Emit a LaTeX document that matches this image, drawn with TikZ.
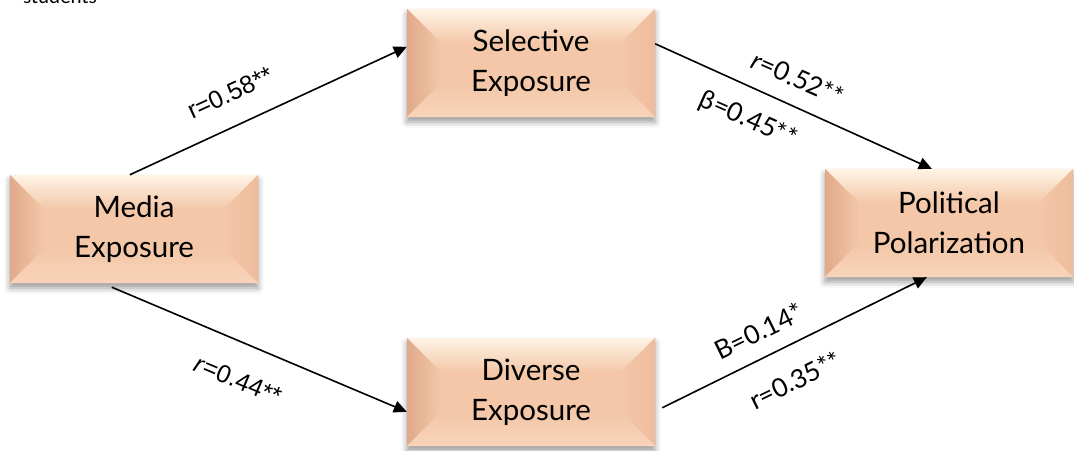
\documentclass[tikz,border=0pt]{standalone}
\usepackage{fontspec}
\setmainfont{Lato}
\newfontfamily\arialfont{Liberation Sans}
\newfontfamily\smallfont{Carlito}
\usetikzlibrary{arrows.meta,calc,shadows.blur}
\definecolor{face}{RGB}{243,199,168}
\definecolor{bevtop}{RGB}{255,244,230}
\definecolor{bevside}{RGB}{224,170,138}
\definecolor{bevright}{RGB}{238,188,156}
\definecolor{bevbot}{RGB}{248,212,186}
\tikzset{
  bevelbox/.style={rectangle, minimum width=248pt, minimum height=108pt, inner sep=0pt,
    fill=face, align=center, font=\fontsize{29.5}{40}\selectfont,
    blur shadow={shadow xshift=0pt, shadow yshift=-5pt, shadow blur radius=6pt, shadow opacity=40},
    path picture={
      \coordinate (bnw) at (path picture bounding box.north west);
      \coordinate (bne) at (path picture bounding box.north east);
      \coordinate (bsw) at (path picture bounding box.south west);
      \coordinate (bse) at (path picture bounding box.south east);
      \fill[top color=bevtop, bottom color=face] (bnw) -- (bne) -- ([shift={(-34pt,-34pt)}]bne) -- ([shift={(34pt,-34pt)}]bnw) -- cycle;
      \fill[left color=bevside, right color=face] (bnw) -- ([shift={(34pt,-34pt)}]bnw) -- ([shift={(34pt,34pt)}]bsw) -- (bsw) -- cycle;
      \fill[left color=face, right color=bevright] (bne) -- ([shift={(-34pt,-34pt)}]bne) -- ([shift={(-34pt,34pt)}]bse) -- (bse) -- cycle;
      \fill[top color=face, bottom color=bevbot] (bsw) -- ([shift={(34pt,34pt)}]bsw) -- ([shift={(-34pt,34pt)}]bse) -- (bse) -- cycle;
    }},
  conn/.style={line width=1.6pt, -{Triangle[length=13pt,width=12pt]}},
  lab/.style={inner sep=0pt, font=\fontsize{26}{30}\selectfont},
  arlab/.style={inner sep=0pt, font=\arialfont\fontsize{25}{30}\selectfont}
}
\begin{document}
\begin{tikzpicture}[x=1pt,y=-1pt]
\useasboundingbox (0,0) rectangle (1074,450);
\node[anchor=base west, inner sep=0pt, font=\smallfont\fontsize{21}{24}\selectfont] (cap) at (23,3) {students};

\node[bevelbox] (media) at (134,229) {Media\\Exposure};
\node[bevelbox] (sel) at (531,63) {Selective\\Exposure};
\node[bevelbox] (pol) at (949,223) {Political\\Polarization};
\node[bevelbox] (div) at (531,392) {Diverse\\Exposure};

\draw[conn] ($(media.north west)+(120pt,0pt)$) -- ($(sel.north west)+(0pt,-38pt)$);
\draw[conn] ($(sel.north east)+(0pt,-35pt)$) -- ($(pol.north west)+(107pt,0pt)$);
\draw[conn] ($(media.south west)+(102pt,-4pt)$) -- ($(div.north west)+(0pt,-74pt)$);
\draw[conn] ($(div.north east)+(7pt,-70pt)$) -- ($(pol.south west)+(102pt,0pt)$);

\node[arlab, rotate=24.8] (l1) at (230,93) {r=0.58**};
\node[lab, rotate=-23.9] (l2) at (798,78) {\textit{r}=0.52**};
\node[lab, rotate=-23.9] (l3) at (748,120) {β=0.45**};
\node[arlab, rotate=-22.8] (l4) at (238,380) {\textit{r}=0.44**};
\node[lab, rotate=26] (l5) at (759,331) {B=0.14*};
\node[lab, rotate=26] (l6) at (795,380) {r=0.35**};
\end{tikzpicture}
\end{document}
